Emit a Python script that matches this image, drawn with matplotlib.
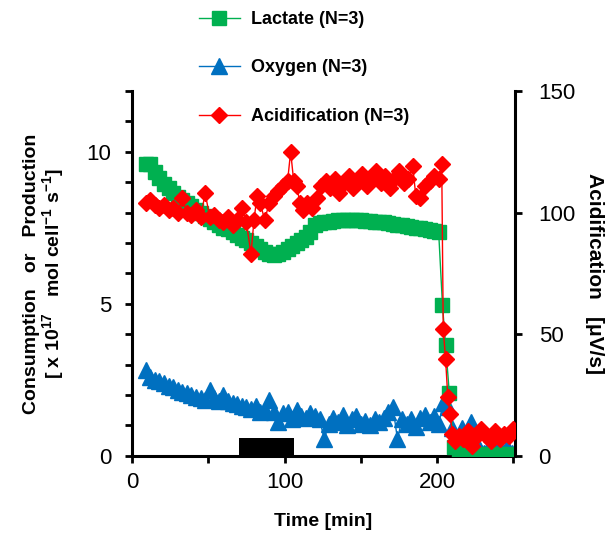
import numpy as np
import matplotlib
matplotlib.use("Agg")
import matplotlib.pyplot as plt
from matplotlib.ticker import MultipleLocator

plt.rcParams["font.family"] = ["Liberation Sans", "DejaVu Sans"]
plt.rcParams["mathtext.fontset"] = "custom"
plt.rcParams["mathtext.rm"] = "Liberation Sans:bold"
plt.rcParams["mathtext.bf"] = "Liberation Sans:bold"

# lactate, left axis [x 10^17 mol cell^-1 s^-1]
t_lac = [9, 12, 15, 18, 21, 24, 27, 30, 33, 36, 39, 42, 45, 48, 51, 54, 57, 60,
         63, 66, 69, 72, 75, 78, 81, 84, 87, 90, 93, 96, 99, 102, 105, 108, 111,
         114, 117, 120, 123, 126, 129, 132, 135, 138, 141, 144, 147, 150, 153,
         156, 159, 162, 165, 168, 171, 174, 177, 180, 183, 186, 189, 192, 195,
         198, 201, 203.5, 205.5, 208, 211, 214, 217, 220, 223, 226, 229, 232,
         235, 238, 241, 244, 247, 250]
lactate = [9.6, 9.6, 9.35, 9.15, 8.95, 8.8, 8.65, 8.5, 8.4, 8.3, 8.2, 8.1, 8.0,
           7.9, 7.8, 7.7, 7.6, 7.5, 7.45, 7.35, 7.25, 7.15, 7.1, 7.0, 6.9, 6.8,
           6.7, 6.65, 6.62, 6.65, 6.7, 6.8, 6.9, 7.0, 7.1, 7.2, 7.35, 7.6, 7.65,
           7.68, 7.7, 7.72, 7.75, 7.75, 7.76, 7.76, 7.75, 7.75, 7.73, 7.72, 7.7,
           7.7, 7.68, 7.66, 7.63, 7.6, 7.58, 7.55, 7.52, 7.5, 7.48, 7.45, 7.42,
           7.4, 7.35, 4.95, 3.65, 2.05, 0.3, 0.0, 0.05, 0.0, 0.05, 0.0, 0.0, 0.05,
           0.0, 0.0, 0.05, 0.0, 0.05, 0.0]

# oxygen, left axis
t_oxy = [9, 12, 15, 18, 21, 24, 27, 30, 33, 36, 39, 42, 45, 48, 51, 54, 57, 60,
         63, 66, 69, 72, 75, 78, 81, 84, 87, 90, 93, 96, 99, 102, 105, 108, 111,
         114, 117, 120, 123, 126, 129, 132, 135, 138, 141, 144, 147, 150, 153,
         156, 159, 162, 165, 168, 171, 174, 177, 180, 183, 186, 189, 192, 195,
         198, 201, 204, 207, 210, 213, 216, 219, 222, 225, 228, 231, 234, 237,
         240, 243, 246, 249]
oxygen = [2.82, 2.6, 2.5, 2.45, 2.38, 2.3, 2.25, 2.15, 2.1, 2.05, 2.0, 1.95,
          1.9, 1.85, 2.15, 1.9, 1.8, 2.0, 1.8, 1.75, 1.7, 1.65, 1.6, 1.55, 1.65,
          1.45, 1.5, 1.85, 1.45, 1.1, 1.4, 1.45, 1.2, 1.5, 1.3, 1.25, 1.4, 1.3,
          1.2, 0.55, 1.05, 1.25, 1.1, 1.35, 1.0, 1.2, 1.3, 1.05, 1.15, 1.0, 1.2,
          1.1, 1.25, 1.45, 1.6, 0.55, 1.2, 1.05, 1.2, 0.95, 1.25, 1.35, 1.1, 1.3,
          1.05, 1.75, 1.6, 0.9, 0.5, 0.9, 0.6, 1.1, 0.5, 0.2, 0.1, 0.3, 0.6, 0.2,
          0.1, 0.3, 0.1]

# acidification, right axis [uV/s]
t_acid = [9, 12, 15, 18, 21, 24, 27, 30, 33, 36, 39, 42, 45, 48, 51, 54, 57,
          60, 63, 66, 69, 72, 75, 78, 80, 82, 84, 87, 90, 93, 96, 99, 102, 104,
          106, 108, 110, 112, 115, 118, 121, 124, 127, 130, 133, 136, 139, 142,
          145, 148, 151, 154, 157, 160, 163, 166, 169, 172, 175, 178, 181, 184,
          186, 189, 192, 195, 198, 201, 203, 204, 205.5, 207, 208.5, 210, 212,
          214, 217, 220, 223, 226, 229, 232, 235, 238, 241, 244, 247, 250]
acidification = [104, 105, 103, 102, 103, 101, 102, 100, 106, 100, 99, 101, 98,
                 108, 98, 99, 97, 96, 98, 95, 97, 102, 96, 83, 97, 107, 104, 97,
                 104, 107, 109, 111, 113, 125, 113, 111, 104, 101, 104, 102, 106,
                 111, 113, 110, 114, 108, 112, 115, 110, 113, 116, 111, 114, 117,
                 112, 115, 110, 114, 117, 112, 114, 119, 107, 106, 111, 113, 115,
                 114, 120, 52, 40, 24, 17, 9, 6, 8, 7, 10, 4, 8, 11, 8, 6, 10, 7,
                 9, 8, 11]

# treatment period shown as a black bar on the time axis
bar_start, bar_end, bar_height = 70, 106, 0.6

GREEN = "#00B050"
BLUE = "#0070C0"
RED = "#FF0000"

fig = plt.figure(figsize=(6.08, 5.35), dpi=100)
ax = fig.add_axes([0.217, 0.148, 0.630, 0.682])
ax2 = ax.twinx()

l1, = ax.plot(t_lac, lactate, color=GREEN, marker="s", markersize=9.5,
              linewidth=1, label="Lactate (N=3)", zorder=3)
l2, = ax.plot(t_oxy, oxygen, color=BLUE, marker="^", markersize=11,
              linewidth=1, label="Oxygen (N=3)", zorder=2)
ax.bar((bar_start + bar_end) / 2, bar_height, width=bar_end - bar_start,
       color="black", zorder=4)
l3, = ax2.plot(t_acid, acidification, color=RED, marker="D", markersize=8,
               linewidth=1, label="Acidification (N=3)", zorder=3)

ax.set_xlim(0, 251)
ax.set_ylim(0, 12)
ax2.set_ylim(0, 150)

ax.xaxis.set_major_locator(MultipleLocator(100))
ax.xaxis.set_minor_locator(MultipleLocator(50))
ax.yaxis.set_major_locator(MultipleLocator(5))
ax.yaxis.set_minor_locator(MultipleLocator(1))
ax2.yaxis.set_major_locator(MultipleLocator(50))

for a in (ax, ax2):
    a.spines["top"].set_visible(False)
    for s in ("left", "right", "bottom"):
        a.spines[s].set_linewidth(2.2)
    a.tick_params(which="both", direction="out", width=2, length=5,
                  labelsize=16, pad=7)
ax.tick_params(axis="y", pad=10)
ax2.tick_params(axis="y", pad=12)
ax.spines["right"].set_visible(False)
ax2.spines["left"].set_visible(False)
ax2.spines["bottom"].set_visible(False)

ax.set_xlabel("Time [min]", fontsize=14, fontweight="bold", labelpad=14)
ax.set_ylabel("Consumption   or   Production\n"
              r"[ x 10$^{17}$   mol cell$^{-1}$ s$^{-1}$]",
              fontsize=14, fontweight="bold", labelpad=14, linespacing=1.0)
ax2.set_ylabel("Acidification   [\u03bcV/s]", fontsize=15, fontweight="bold",
               rotation=270, labelpad=20)

fig.legend(handles=[l1, l2, l3], loc="upper left",
           bbox_to_anchor=(0.30, 1.01), frameon=False,
           prop={"size": 13, "weight": "bold"}, labelspacing=1.75,
           handlelength=2.3, handletextpad=0.6)

fig.savefig("out.png", dpi=100)
